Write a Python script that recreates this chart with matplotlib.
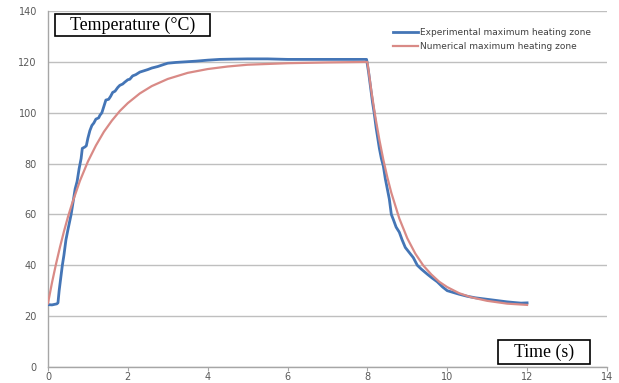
import numpy as np
import matplotlib.pyplot as plt
from matplotlib.patches import Rectangle

# experimental curve
t_exp = [0, 0.1, 0.22, 0.25, 0.28, 0.32, 0.36, 0.4, 0.45, 0.5, 0.58, 0.63, 0.68, 0.73, 0.78,
         0.83, 0.86, 0.92, 0.96, 1.0, 1.05, 1.1, 1.15, 1.2, 1.27, 1.3, 1.35, 1.4, 1.45, 1.52,
         1.57, 1.62, 1.68, 1.75, 1.8, 1.87, 1.92, 2.0, 2.05, 2.12, 2.2, 2.3, 2.4, 2.5, 2.6,
         2.75, 2.9, 3.0, 3.2, 3.4, 3.7, 4.0, 4.3, 4.6, 5.0, 5.5, 6.0, 7.0, 7.98,
         8.03, 8.08, 8.13, 8.17, 8.22, 8.26, 8.3, 8.35, 8.4, 8.45, 8.5, 8.55, 8.6, 8.65, 8.72,
         8.8, 8.87, 8.95, 9.05, 9.15, 9.25, 9.35, 9.5, 9.62, 9.75, 9.88, 10.0, 10.15, 10.3,
         10.5, 10.7, 10.9, 11.1, 11.3, 11.5, 11.7, 11.85, 12.0]
T_exp = [24.5, 24.4, 24.8, 25.2, 30, 35, 40, 44, 50, 54, 60, 65, 70, 73, 78,
         82, 86, 86.5, 87, 90, 93, 95, 96, 97.5, 98, 99, 100, 102.5, 105, 105.3,
         106.5, 108, 108.5, 110, 110.8, 111.3, 112, 113, 113.2, 114.5, 115, 116, 116.5, 117, 117.6,
         118.2, 119, 119.5, 119.8, 120, 120.3, 120.7, 121, 121.1, 121.2, 121.2, 121, 121, 121,
         116, 110, 104, 100, 94, 90, 86, 82, 79, 74, 70, 66, 60, 58, 55,
         53, 50, 47, 45, 43, 40, 38.5, 36.5, 35, 33.5, 31.5, 30, 29.3, 28.6,
         27.8, 27.2, 26.8, 26.4, 26, 25.6, 25.3, 25.1, 25.2]

# numerical curve
t_num = [0, 0.1, 0.2, 0.3, 0.4, 0.5, 0.6, 0.8, 1.0, 1.2, 1.4, 1.6, 1.8, 2.0, 2.3, 2.6,
         3.0, 3.5, 4.0, 4.5, 5.0, 6.0, 7.0, 8.0,
         8.1, 8.2, 8.3, 8.4, 8.5, 8.6, 8.8, 9.0, 9.2, 9.4, 9.6, 9.8, 10.0, 10.3, 10.6,
         11.0, 11.5, 12.0]
T_num = [25, 33.1, 40.4, 47.1, 53.3, 59.0, 64.1, 73.2, 80.8, 87.1, 92.5, 96.9, 100.7, 103.8, 107.6, 110.5,
         113.3, 115.7, 117.2, 118.2, 118.9, 119.5, 119.8, 120,
         108.5, 98.3, 89.4, 81.5, 74.6, 68.5, 58.4, 50.6, 44.6, 39.9, 36.4, 33.5, 31.4, 29.0, 27.4,
         26.0, 24.9, 24.4]

xticks = [0, 2, 4, 6, 8, 10, 12, 14]
yticks = [0, 20, 40, 60, 80, 100, 120, 140]

gray = '#595959'

fig = plt.figure(figsize=(6.19, 3.83), dpi=100)
ax = fig.add_axes([0.0775, 0.042, 0.903, 0.929])

ax.plot(t_exp, T_exp, color='#4475B6', lw=2.0, label='Experimental maximum heating zone', zorder=3)
ax.plot(t_num, T_num, color='#D98A86', lw=1.6, label='Numerical maximum heating zone', zorder=4)

ax.set_xlim(0, 14)
ax.set_ylim(0, 140)
ax.set_xticks(xticks)
ax.set_yticks(yticks)
ax.tick_params(axis='both', colors='#A6A6A6', labelcolor=gray, labelsize=7, length=3, width=0.8)
ax.tick_params(axis='x', pad=1)
ax.tick_params(axis='y', length=0, pad=8)
ax.grid(axis='y', color='#BFBFBF', lw=1)
ax.set_axisbelow(True)
for s in ['top', 'right']:
    ax.spines[s].set_visible(False)
for s in ['left', 'bottom']:
    ax.spines[s].set_color('#A6A6A6')
    ax.spines[s].set_linewidth(1)

leg = ax.legend(loc='upper left', bbox_to_anchor=(0.6105, 0.962), frameon=False, fontsize=6.5,
                handlelength=2.8, handletextpad=0.2, labelspacing=0.55, borderaxespad=0)
for txt in leg.get_texts():
    txt.set_color('#404040')

# boxed axis titles
ax.add_patch(Rectangle((0.0125, 0.93), 0.2775, 0.062, transform=ax.transAxes,
                       fc='white', ec='black', lw=1.2, zorder=5, clip_on=False))
ax.text(0.151, 0.961, 'Temperature (\u00b0C)', transform=ax.transAxes, ha='center', va='center',
        family='Liberation Serif', fontsize=12.8, zorder=6)
ax.add_patch(Rectangle((0.805, 0.0084), 0.165, 0.0674, transform=ax.transAxes,
                       fc='white', ec='black', lw=1.2, zorder=5, clip_on=False))
ax.text(0.8875, 0.042, 'Time (s)', transform=ax.transAxes, ha='center', va='center',
        family='Liberation Serif', fontsize=12.8, zorder=6)

fig.savefig('out.png', dpi=100)
